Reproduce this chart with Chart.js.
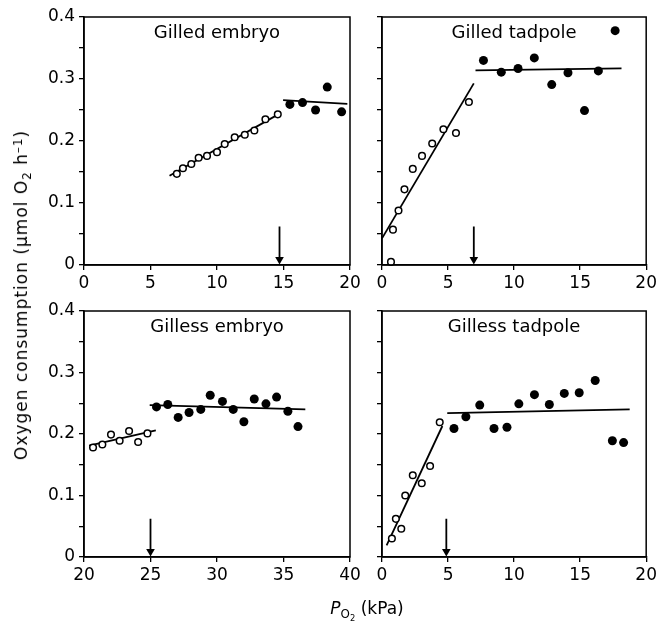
<!DOCTYPE html>
<html>
<head>
<meta charset="utf-8">
<script src="https://cdn.jsdelivr.net/npm/chart.js@4.4.1/dist/chart.umd.min.js"></script>
<style>
    body { margin: 0; background: #fff; }
    #wrap { position: relative; width: 660px; height: 622px; font-family: "DejaVu Sans", sans-serif; color: #000; }
    canvas { position: absolute; }
    #ytitle {
        position: absolute; left: 21px; top: 295px; white-space: nowrap; letter-spacing: 1px;
        font-size: 17px; transform: translate(-50%, -50%) rotate(-90deg);
    }
    #xtitle {
        position: absolute; left: 367px; top: 608px; white-space: nowrap;
        font-size: 17px; transform: translate(-50%, -50%);
    }
    .sub { font-size: 0.7em; position: relative; top: 0.35em; }
    .sup { font-size: 0.7em; position: relative; top: -0.45em; }
</style>
</head>
<body>
<div id="wrap">
    <canvas id="p1" width="336" height="295" style="left:30px;top:0px"></canvas>
    <canvas id="p2" width="294" height="295" style="left:366px;top:0px"></canvas>
    <canvas id="p3" width="336" height="305" style="left:30px;top:295px"></canvas>
    <canvas id="p4" width="294" height="305" style="left:366px;top:295px"></canvas>
    <div id="ytitle">Oxygen consumption (µmol O<span class="sub">2</span> h<span class="sup">–1</span>)</div>
    <div id="xtitle"><i>P</i><span class="sub">O<span class="sub">2</span></span> (kPa)</div>
</div>
<script>
// Gilled embryo
const gilledEmbryoOpenX = [6.98, 7.44, 8.07, 8.62, 9.25, 10.0, 10.58, 11.33, 12.09, 12.81, 13.64, 14.57];
const gilledEmbryoOpenY = [0.147, 0.156, 0.163, 0.173, 0.176, 0.182, 0.195, 0.206, 0.210, 0.217, 0.235, 0.243];
const gilledEmbryoFilledX = [15.48, 16.43, 17.41, 18.29, 19.37];
const gilledEmbryoFilledY = [0.259, 0.262, 0.250, 0.287, 0.247];
const gilledEmbryoFitOpenX = [6.43, 14.77], gilledEmbryoFitOpenY = [0.144, 0.245];
const gilledEmbryoFitFilledX = [14.97, 19.8], gilledEmbryoFitFilledY = [0.266, 0.260];

// Gilled tadpole
const gilledTadpoleOpenX = [0.68, 0.83, 1.25, 1.70, 2.33, 3.03, 3.80, 4.65, 5.60, 6.58];
const gilledTadpoleOpenY = [0.005, 0.057, 0.088, 0.122, 0.155, 0.176, 0.196, 0.219, 0.213, 0.263];
const gilledTadpoleFilledX = [7.68, 9.03, 10.30, 11.53, 12.85, 14.08, 15.33, 16.38, 17.65];
const gilledTadpoleFilledY = [0.330, 0.311, 0.317, 0.334, 0.291, 0.310, 0.249, 0.313, 0.378];
const gilledTadpoleFitOpenX = [0, 6.95], gilledTadpoleFitOpenY = [0.043, 0.293];
const gilledTadpoleFitFilledX = [7.08, 18.13], gilledTadpoleFitFilledY = [0.314, 0.317];

// Gilless embryo
const gillessEmbryoOpenX = [20.68, 21.38, 22.03, 22.68, 23.39, 24.07, 24.77];
const gillessEmbryoOpenY = [0.178, 0.183, 0.199, 0.189, 0.205, 0.187, 0.201];
const gillessEmbryoFilledX = [25.45, 26.30, 27.08, 27.90, 28.78, 29.49, 30.41, 31.22, 32.02, 32.80, 33.68, 34.48, 35.33, 36.09];
const gillessEmbryoFilledY = [0.244, 0.248, 0.227, 0.235, 0.240, 0.263, 0.253, 0.240, 0.220, 0.257, 0.249, 0.260, 0.237, 0.212];
const gillessEmbryoFitOpenX = [20.38, 25.4], gillessEmbryoFitOpenY = [0.181, 0.206];
const gillessEmbryoFitFilledX = [24.94, 36.64], gillessEmbryoFitFilledY = [0.247, 0.240];

// Gilless tadpole
const gillessTadpoleOpenX = [0.75, 1.05, 1.46, 1.76, 2.33, 3.01, 3.64, 4.37];
const gillessTadpoleOpenY = [0.030, 0.062, 0.046, 0.100, 0.133, 0.120, 0.148, 0.219];
const gillessTadpoleFilledX = [5.45, 6.35, 7.40, 8.48, 9.46, 10.36, 11.54, 12.67, 13.80, 14.93, 16.14, 17.44, 18.29];
const gillessTadpoleFilledY = [0.209, 0.228, 0.247, 0.209, 0.211, 0.249, 0.264, 0.248, 0.266, 0.267, 0.287, 0.189, 0.186];
const gillessTadpoleFitOpenX = [0.35, 4.57], gillessTadpoleFitOpenY = [0.019, 0.213];
const gillessTadpoleFitFilledX = [4.94, 18.75], gillessTadpoleFitFilledY = [0.234, 0.240];

// critical PO2 arrows (top of shaft, tip)
const arrowX = [14.7, 6.95, 25.0, 4.87];
const arrowY = [0.062, 0.009];

const panelTitles = ['Gilled embryo', 'Gilled tadpole', 'Gilless embryo', 'Gilless tadpole'];
const xRanges = [[0, 20], [0, 20], [20, 40], [0, 20]];
const yRange = [0, 0.4];

document.addEventListener('DOMContentLoaded', function() {
    const FONT = '"DejaVu Sans", sans-serif';

    function pts(xs, ys) {
        return xs.map((x, i) => ({ x: x, y: ys[i] }));
    }

    // box round the plot area + panel title
    const boxPlugin = {
        id: 'box',
        afterDraw(chart) {
            const a = chart.chartArea, ctx = chart.ctx;
            ctx.save();
            ctx.strokeStyle = '#000';
            ctx.lineWidth = 1.5;
            ctx.strokeRect(a.left, a.top, a.right - a.left, a.bottom - a.top);
            ctx.fillStyle = '#000';
            ctx.font = '18px ' + FONT;
            ctx.textAlign = 'center';
            ctx.textBaseline = 'alphabetic';
            ctx.fillText(chart.options.panelTitle, (a.left + a.right) / 2, a.top + 21);
            ctx.restore();
        }
    };

    function makePanel(id, idx, plot, open, filled, fitOpen, fitFilled, showYLabels) {
        const canvas = document.getElementById(id);
        const cx = parseFloat(canvas.style.left), cy = parseFloat(canvas.style.top);
        const cw = canvas.width, ch = canvas.height;
        const xAxisH = 30;

        const lineStyle = { showLine: true, borderColor: '#000', borderWidth: 1.8, pointRadius: 0, clip: false };

        new Chart(canvas, {
            type: 'scatter',
            data: {
                datasets: [
                    { data: open, pointStyle: 'circle', pointRadius: 3.3, backgroundColor: '#fff', borderColor: '#000', borderWidth: 1.5, clip: false },
                    { data: filled, pointStyle: 'circle', pointRadius: 4.5, backgroundColor: '#000', borderColor: '#000', borderWidth: 0, clip: false },
                    Object.assign({ data: fitOpen }, lineStyle),
                    Object.assign({ data: fitFilled }, lineStyle),
                    {
                        data: [{ x: arrowX[idx], y: arrowY[0] }, { x: arrowX[idx], y: arrowY[1] }],
                        showLine: true, borderColor: '#000', borderWidth: 1.8, clip: false,
                        pointStyle: 'triangle', pointRotation: 180,
                        pointRadius: [0, 5], backgroundColor: '#000', pointBorderWidth: 0
                    }
                ]
            },
            options: {
                panelTitle: panelTitles[idx],
                responsive: false,
                animation: false,
                devicePixelRatio: 1,
                events: [],
                layout: {
                    autoPadding: false,
                    padding: { left: 0, top: plot.top - cy, right: cx + cw - plot.right, bottom: cy + ch - plot.bottom - xAxisH }
                },
                plugins: { legend: { display: false }, tooltip: { enabled: false } },
                scales: {
                    x: {
                        type: 'linear', min: xRanges[idx][0], max: xRanges[idx][1],
                        afterFit: s => { s.height = xAxisH; },
                        grid: { drawOnChartArea: false, drawTicks: true, tickLength: 5, color: '#000', lineWidth: 1.3 },
                        border: { color: '#000', width: 1.5 },
                        ticks: { stepSize: 5, color: '#000', padding: 3, maxRotation: 0, font: { family: FONT, size: 17 } }
                    },
                    y: {
                        type: 'linear', min: yRange[0], max: yRange[1],
                        afterFit: s => { s.width = plot.left - cx; },
                        grid: { drawOnChartArea: false, drawTicks: true, tickLength: 5, color: '#000', lineWidth: 1.3 },
                        border: { color: '#000', width: 1.5 },
                        ticks: {
                            stepSize: 0.05, color: '#000', padding: 4, font: { family: FONT, size: 17 },
                            callback: function(v) {
                                const k = Math.round(v * 20);
                                if (!showYLabels || k % 2) return '';
                                return k === 0 ? '0' : (k / 20).toFixed(1);
                            }
                        }
                    }
                }
            },
            plugins: [boxPlugin]
        });
    }

    const top = { top: 17, bottom: 265 }, bot = { top: 311, bottom: 557 };
    const leftCol = { left: 84, right: 350 }, rightCol = { left: 382, right: 648 };

    makePanel('p1', 0, Object.assign({}, leftCol, top),
        pts(gilledEmbryoOpenX, gilledEmbryoOpenY), pts(gilledEmbryoFilledX, gilledEmbryoFilledY),
        pts(gilledEmbryoFitOpenX, gilledEmbryoFitOpenY), pts(gilledEmbryoFitFilledX, gilledEmbryoFitFilledY), true);
    makePanel('p2', 1, Object.assign({}, rightCol, top),
        pts(gilledTadpoleOpenX, gilledTadpoleOpenY), pts(gilledTadpoleFilledX, gilledTadpoleFilledY),
        pts(gilledTadpoleFitOpenX, gilledTadpoleFitOpenY), pts(gilledTadpoleFitFilledX, gilledTadpoleFitFilledY), false);
    makePanel('p3', 2, Object.assign({}, leftCol, bot),
        pts(gillessEmbryoOpenX, gillessEmbryoOpenY), pts(gillessEmbryoFilledX, gillessEmbryoFilledY),
        pts(gillessEmbryoFitOpenX, gillessEmbryoFitOpenY), pts(gillessEmbryoFitFilledX, gillessEmbryoFitFilledY), true);
    makePanel('p4', 3, Object.assign({}, rightCol, bot),
        pts(gillessTadpoleOpenX, gillessTadpoleOpenY), pts(gillessTadpoleFilledX, gillessTadpoleFilledY),
        pts(gillessTadpoleFitOpenX, gillessTadpoleFitOpenY), pts(gillessTadpoleFitFilledX, gillessTadpoleFitFilledY), false);
});
</script>
</body>
</html>
